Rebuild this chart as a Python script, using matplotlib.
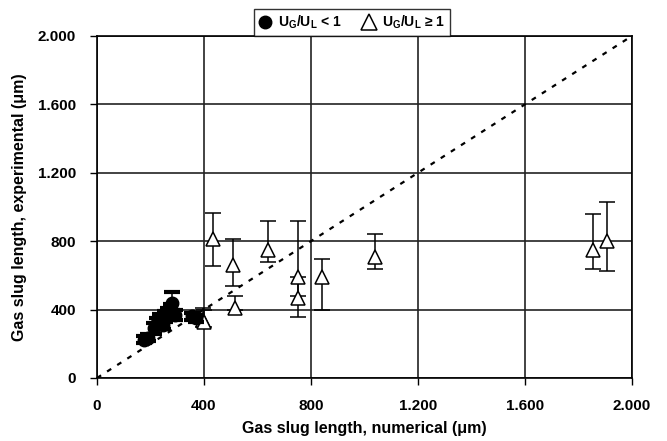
import numpy             as np
import matplotlib
matplotlib.use('Agg')
import matplotlib.pyplot as plt
from matplotlib.lines  import Line2D
from matplotlib.ticker import FixedLocator, FuncFormatter

plt.rcParams['font.family']      = ['Liberation Sans', 'DejaVu Sans']
plt.rcParams['mathtext.fontset'] = 'custom'
plt.rcParams['mathtext.rm']      = 'Liberation Sans:bold'
plt.rcParams['mathtext.bf']      = 'Liberation Sans:bold'

# U_G/U_L < 1 (filled circles)
circ_x    = [175, 190, 215, 225, 235, 245, 255, 265, 275, 280, 290, 355, 370]
circ_y    = [225, 235, 290, 320, 345, 310, 360, 380, 400, 440, 370, 360, 350]
circ_lo   = [20,  20,  30,  30,  30,  25,  30,  30,  30,  40,  30,  20,  20]
circ_hi   = [20,  20,  30,  30,  30,  25,  30,  30,  30,  65,  30,  20,  20]

# U_G/U_L >= 1 (open triangles)
tri_x     = [395, 400, 434, 510, 515, 640, 750, 752, 843, 1040, 1855, 1905]
tri_y     = [340, 330, 810, 661, 410, 750, 590, 465, 590, 706, 750, 800]
tri_low   = [300, 300, 655, 538, 400, 677, 480, 358, 400, 635, 636, 625]
tri_high  = [410, 400, 967, 811, 481, 920, 920, 590, 696, 842, 959, 1029]

ticks = [0, 400, 800, 1200, 1600, 2000]

fig = plt.figure(figsize=(6.67, 4.41), dpi=100)
ax  = fig.add_axes([0.1454, 0.1429, 0.802, 0.7755])

ax.grid(True, color='#222222', linewidth=1.2)
ax.set_axisbelow(True)

ax.plot([0, 2000], [0, 2000], color='black', linestyle=(0, (2.2, 3.2)), linewidth=1.6, zorder=2)

tri_err = [np.array(tri_y) - np.array(tri_low), np.array(tri_high) - np.array(tri_y)]
ax.errorbar(tri_x, tri_y, yerr=tri_err, fmt='^', markersize=10, markerfacecolor='white',
            markeredgecolor='black', markeredgewidth=1.1, ecolor='black', elinewidth=1.1,
            capsize=5.5, capthick=1.1, zorder=3)

ax.errorbar(circ_x, circ_y, yerr=[circ_lo, circ_hi], fmt='o', markersize=9, color='black',
            ecolor='black', elinewidth=1.1, capsize=5.5, capthick=3, zorder=4)

ax.set_xlim(0, 2000)
ax.set_ylim(0, 2000)
ax.xaxis.set_major_locator(FixedLocator(ticks))
ax.yaxis.set_major_locator(FixedLocator(ticks))
fmt = FuncFormatter(lambda v, p: '{:,}'.format(int(v)).replace(',', '.'))
ax.xaxis.set_major_formatter(fmt)
ax.yaxis.set_major_formatter(fmt)
ax.tick_params(direction='out', length=5, width=1, labelsize=11, pad=10)
for lab in ax.get_xticklabels() + ax.get_yticklabels():
    lab.set_fontweight('bold')
for sp in ax.spines.values():
    sp.set_linewidth(1.2)

ax.set_xlabel('Gas slug length, numerical (\u03bcm)', fontsize=11.5, fontweight='bold', labelpad=6)
ax.set_ylabel('Gas slug length, experimental (\u03bcm)', fontsize=11.5, fontweight='bold', labelpad=8)

handles = [Line2D([], [], marker='o', linestyle='none', color='black', markersize=9),
           Line2D([], [], marker='^', linestyle='none', markerfacecolor='white',
                  markeredgecolor='black', markeredgewidth=1.1, markersize=11)]
labels  = [r'$\mathregular{U_G/U_L}$ < 1', r'$\mathregular{U_G/U_L}$ ' + '\u2265 1']
leg = fig.legend(handles, labels, loc='upper center', bbox_to_anchor=(0.528, 0.995),
                 ncol=2, frameon=True, fancybox=False, edgecolor='black', fontsize=10,
                 handlelength=0.9, handletextpad=0.5, columnspacing=1.5, borderpad=0.35)
leg.get_frame().set_linewidth(1.0)
for t in leg.get_texts():
    t.set_fontweight('bold')

fig.savefig('out.png', dpi=100)
